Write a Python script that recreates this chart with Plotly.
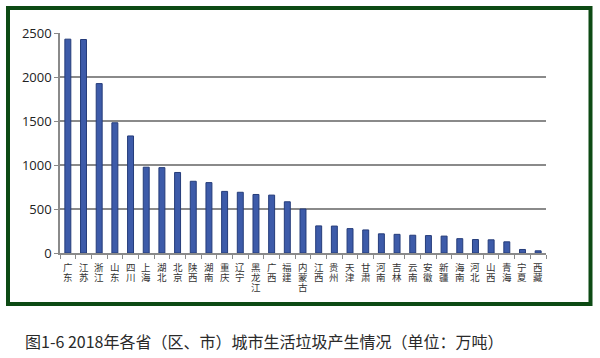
import plotly.graph_objects as go

provinces = ["广东", "江苏", "浙江", "山东", "四川", "上海", "湖北", "北京", "陕西", "湖南",
             "重庆", "辽宁", "黑龙江", "广西", "福建", "内蒙古", "江西", "贵州", "天津", "甘肃",
             "河南", "吉林", "云南", "安徽", "新疆", "海南", "河北", "山西", "青海", "宁夏", "西藏"]
values = [2430, 2426, 1925, 1480, 1330, 975, 970, 915, 815, 800,
          700, 690, 665, 658, 582, 500, 308, 306, 277, 262,
          218, 212, 202, 198, 192, 163, 153, 150, 127, 40, 25]
y_ticks = [0, 500, 1000, 1500, 2000, 2500]
caption = "图1-6 2018年各省（区、市）城市生活垃圾产生情况（单位：万吨）"

fig = go.Figure()
fig.add_trace(go.Bar(
    x=provinces, y=values,
    marker=dict(color="#3d5ba9", line=dict(color="#253c7a", width=1)),
    width=0.38,
))

PX_L, PX_R, PX_T, PX_B = 60, 546, 33, 253
W, H = 600, 358
pw = PX_R - PX_L
ph = PX_B - PX_T

def xp(px):
    return (px - PX_L) / pw

def yp(py):
    return (PX_B - py) / ph

# vertical (stacked) category labels, one character per line
annotations = []
for p in provinces:
    for i, ch in enumerate(p):
        annotations.append(dict(
            text=ch, x=p, xref="x", yref="paper",
            y=yp(266.5 + 10 * i), xanchor="center", yanchor="middle",
            showarrow=False, borderpad=0,
            font=dict(size=9.5, family="Noto Sans CJK SC, sans-serif", color="#333"),
        ))

annotations.append(dict(
    text=caption, xref="paper", yref="paper",
    x=xp(23), y=yp(341), xanchor="left", yanchor="middle",
    showarrow=False,
    font=dict(size=16, family="Noto Sans CJK SC, sans-serif", color="#2a2a2a"),
))

fig.update_layout(
    width=W, height=H,
    margin=dict(l=PX_L, r=W - PX_R, t=PX_T, b=H - PX_B, pad=0),
    paper_bgcolor="white", plot_bgcolor="white",
    showlegend=False,
    font=dict(family="Noto Sans CJK SC, Noto Sans, sans-serif", color="#222"),
    xaxis=dict(
        type="category",
        showticklabels=False,
        showline=True, linecolor="#8a8a8a", linewidth=1.5,
        ticks="outside", tickson="boundaries", ticklen=4, tickcolor="#8a8a8a",
        showgrid=False,
        range=[-0.5, len(provinces) - 0.5],
    ),
    yaxis=dict(
        range=[0, 2500],
        tickvals=y_ticks,
        tickfont=dict(size=13, family="Open Sans, Noto Sans, sans-serif", color="#222"),
        showline=True, linecolor="#8a8a8a", linewidth=1.5,
        ticks="outside", ticklen=4, tickcolor="#8a8a8a",
        showgrid=True, gridcolor="#8a8a8a", gridwidth=1.5,
        zeroline=False,
    ),
    shapes=[dict(
        type="rect", xref="paper", yref="paper",
        x0=xp(8), x1=xp(590.5), y0=yp(304), y1=yp(8),
        line=dict(color="#0d4a14", width=4), fillcolor="rgba(0,0,0,0)",
        layer="below",
    )],
    annotations=annotations,
)

fig.write_html("out.html", config={"displayModeBar": False},
               post_script="document.body.style.margin='0';")
